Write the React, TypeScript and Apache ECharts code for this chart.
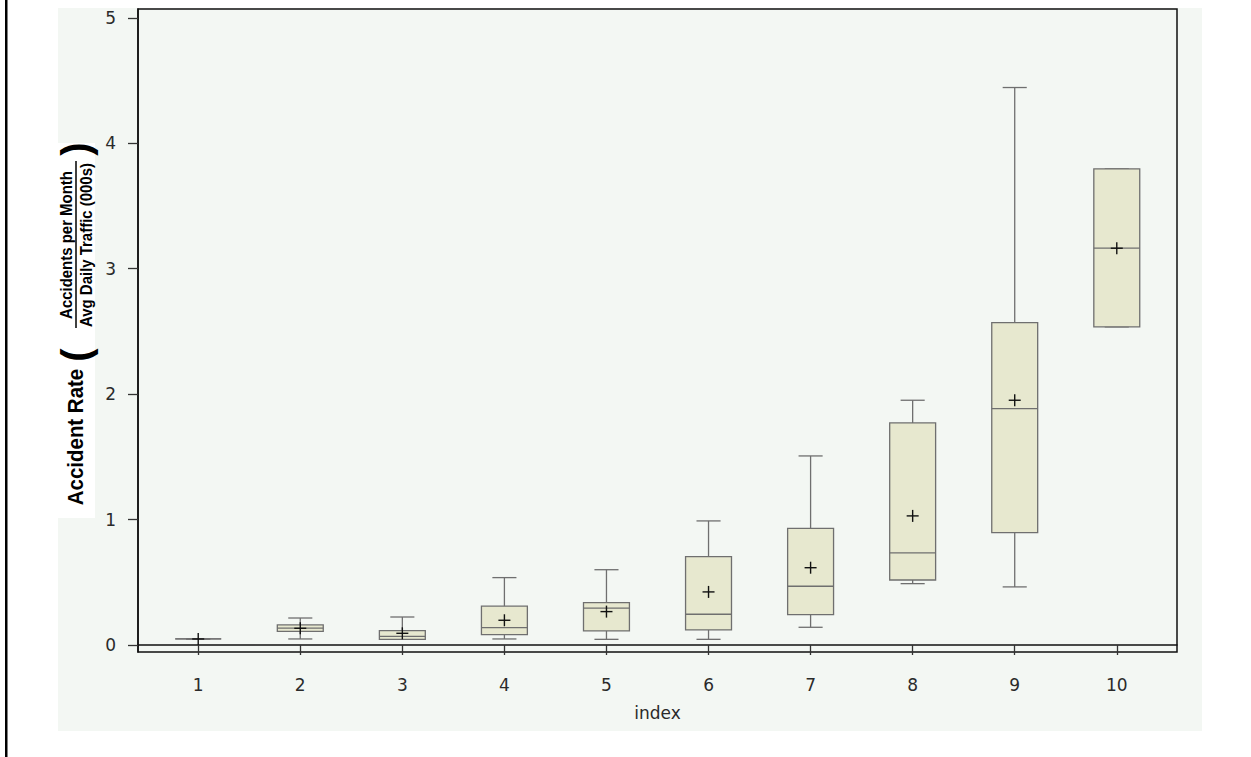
import React, { useEffect, useRef } from "react";
import * as echarts from "echarts";

// index values
const categories = [1, 2, 3, 4, 5, 6, 7, 8, 9, 10];
// box statistics per index
const minVals = [0.048, 0.048, 0.045, 0.048, 0.045, 0.045, 0.141, 0.489, 0.463, 2.536];
const q1Vals = [0.048, 0.109, 0.045, 0.082, 0.112, 0.12, 0.242, 0.518, 0.896, 2.536];
const medianVals = [0.048, 0.135, 0.069, 0.138, 0.293, 0.245, 0.468, 0.734, 1.884, 3.163];
const q3Vals = [0.048, 0.16, 0.114, 0.309, 0.337, 0.704, 0.93, 1.77, 2.57, 3.796];
const maxVals = [0.048, 0.215, 0.223, 0.537, 0.6, 0.989, 1.507, 1.951, 4.444, 3.796];
const meanVals = [0.048, 0.133, 0.093, 0.197, 0.266, 0.423, 0.616, 1.029, 1.951, 3.163];
const yTicks = [0, 1, 2, 3, 4, 5];

const BOX_HALF = 0.225;
const CAP_HALF = 0.118;
const CROSS = 6;

const BOLD = "Liberation Sans, Arial, sans-serif";
const TICK_FONT = "DejaVu Sans, Liberation Sans, sans-serif";

function txt(text: string, x: number, y: number, size: number, sx = 1) {
  return {
    type: "text",
    x,
    y,
    scaleX: sx,
    style: {
      text,
      font: `bold ${size}px ${BOLD}`,
      fill: "#000",
      align: "center",
      verticalAlign: "middle",
      textAlign: "center",
      textVerticalAlign: "middle",
    },
  };
}

export default function App() {
  const ref = useRef<HTMLDivElement>(null);
  useEffect(() => {
    if (!ref.current) return;
    const chart = echarts.init(ref.current, null, { renderer: "svg" });
    const data = categories.map((c, i) => [
      c,
      minVals[i],
      q1Vals[i],
      medianVals[i],
      q3Vals[i],
      maxVals[i],
      meanVals[i],
    ]);
    const boxStroke = "#6f6f6f";
    chart.setOption({
      animation: false,
      backgroundColor: "#ffffff",
      graphic: [
        { type: "rect", z: -10, shape: { x: 5, y: 0, width: 2.5, height: 757 }, style: { fill: "#000" } },
        { type: "rect", z: -10, shape: { x: 58, y: 8, width: 1144, height: 723 }, style: { fill: "#f3f7f3" } },
        { type: "rect", z: -9, shape: { x: 56, y: 143, width: 39, height: 375 }, style: { fill: "#ffffff" } },
        {
          type: "group",
          x: 76,
          y: 331,
          rotation: Math.PI / 2,
          z: 10,
          children: [
            txt("Accident Rate", -106, 0, 22, 0.93),
            txt("(", -24, 0, 40),
            txt(")", 182, 0, 40),
            txt("Accidents per Month", 86, -10, 17, 0.88),
            {
              type: "line",
              shape: { x1: 3, y1: 0, x2: 170, y2: 0 },
              style: { stroke: "#000", lineWidth: 1.5 },
            },
            txt("Avg Daily Traffic (000s)", 86, 10, 17, 0.88),
          ],
        },
      ],
      grid: {
        left: 138,
        top: 9,
        width: 1039,
        height: 643,
        show: true,
        backgroundColor: "transparent",
        borderColor: "#111",
        borderWidth: 1.5,
        containLabel: false,
      },
      xAxis: {
        type: "value",
        min: 0.41,
        max: 10.59,
        name: "index",
        nameLocation: "middle",
        nameGap: 52,
        nameTextStyle: { fontFamily: TICK_FONT, fontSize: 17, color: "#2a2a2a" },
        axisLine: { show: true, lineStyle: { color: "#111", width: 1.5 } },
        axisTick: { show: true, customValues: categories, length: 10, lineStyle: { color: "#333", width: 1.3 } },
        axisLabel: {
          customValues: categories,
          margin: 24,
          fontFamily: TICK_FONT,
          fontSize: 17,
          color: "#2a2a2a",
        },
        splitLine: { show: false },
      },
      yAxis: {
        type: "value",
        min: -0.056,
        max: 5.07,
        axisLine: { show: true, lineStyle: { color: "#111", width: 1.5 } },
        axisTick: { show: true, customValues: yTicks, length: 10, lineStyle: { color: "#333", width: 1.3 } },
        axisLabel: {
          customValues: yTicks,
          margin: 22,
          fontFamily: TICK_FONT,
          fontSize: 17,
          color: "#2a2a2a",
        },
        splitLine: { show: false },
      },
      series: [
        {
          type: "custom",
          data,
          encode: { x: 0, y: [1, 2, 3, 4, 5] },
          renderItem: (params: any, api: any) => {
            const x = api.value(0);
            const mn = api.value(1);
            const q1 = api.value(2);
            const md = api.value(3);
            const q3 = api.value(4);
            const mx = api.value(5);
            const mean = api.value(6);
            const c = (a: number, b: number) => api.coord([a, b]);
            const tl = c(x - BOX_HALF, q3);
            const br = c(x + BOX_HALF, q1);
            const pMean = c(x, mean);
            const ls = { stroke: boxStroke, lineWidth: 1.3, fill: null };
            const line = (p1: number[], p2: number[], style: any = ls) => ({
              type: "line",
              shape: { x1: p1[0], y1: p1[1], x2: p2[0], y2: p2[1] },
              style,
            });
            return {
              type: "group",
              children: [
                line(c(x, q3), c(x, mx)),
                line(c(x, q1), c(x, mn)),
                line(c(x - CAP_HALF, mx), c(x + CAP_HALF, mx)),
                line(c(x - CAP_HALF, mn), c(x + CAP_HALF, mn)),
                {
                  type: "rect",
                  shape: { x: tl[0], y: tl[1], width: br[0] - tl[0], height: br[1] - tl[1] },
                  style: { fill: "#e7e8cf", stroke: boxStroke, lineWidth: 1.3 },
                },
                line(c(x - BOX_HALF, md), c(x + BOX_HALF, md)),
                line([pMean[0] - CROSS, pMean[1]], [pMean[0] + CROSS, pMean[1]], { stroke: "#111", lineWidth: 1.4 }),
                line([pMean[0], pMean[1] - CROSS], [pMean[0], pMean[1] + CROSS], { stroke: "#111", lineWidth: 1.4 }),
              ],
            };
          },
        },
      ],
    });
    return () => chart.dispose();
  }, []);
  return (
    <div
      ref={ref}
      style={{ position: "absolute", left: 0, top: 0, width: 1251, height: 757 }}
    />
  );
}
